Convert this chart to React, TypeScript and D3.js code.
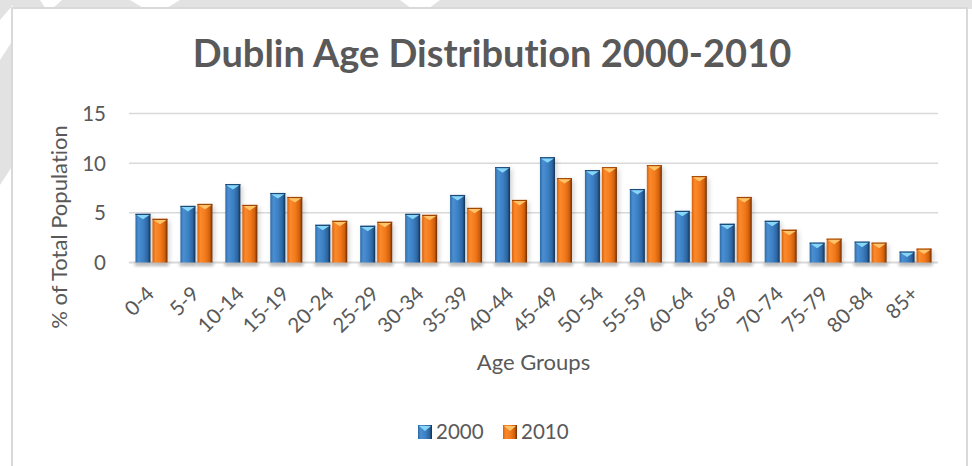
import React from 'react';
import * as d3 from 'd3';

// Age groups and % of total population
const categories = ['0-4', '5-9', '10-14', '15-19', '20-24', '25-29', '30-34', '35-39', '40-44',
  '45-49', '50-54', '55-59', '60-64', '65-69', '70-74', '75-79', '80-84', '85+'];
const values2000 = [4.9, 5.7, 7.9, 7.0, 3.8, 3.7, 4.9, 6.8, 9.6, 10.6, 9.3, 7.4, 5.2, 3.9, 4.2, 2.0, 2.1, 1.1];
const values2010 = [4.4, 5.9, 5.8, 6.6, 4.2, 4.1, 4.8, 5.5, 6.3, 8.5, 9.6, 9.8, 8.7, 6.6, 3.3, 2.4, 2.0, 1.4];
const seriesNames = ['2000', '2010'];
const yTicks = [0, 5, 10, 15];

const W = 972;
const H = 466;
const FONT = 'Lato, "Open Sans", sans-serif';
const TEXT = '#595959';

// bar look per series: gradient stops + bevel colour
const looks = [
  { id: 'g2000', stops: ['#2d6aa6', '#4a8fd2', '#3b7fc2', '#2c64a0', '#13304f'], bevel: '#86d6f8', edge: '#1d4a78' },
  { id: 'g2010', stops: ['#d9620c', '#fb8a2c', '#f2791a', '#d1600c', '#6e2c02'], bevel: '#ffc46a', edge: '#a04705' },
];

const App: React.FC = () => {
  const margin = { left: 129, right: 938, top: 113.5, bottom: 262.5 };

  const x = d3.scaleBand<string>()
    .domain(categories)
    .range([margin.left, margin.right])
    .paddingInner(0.288)
    .paddingOuter(0.144);

  const xs = d3.scaleBand<string>()
    .domain(seriesNames)
    .range([0, x.bandwidth()])
    .paddingInner(2 / 17);

  const y = d3.scaleLinear().domain([0, 15]).range([margin.bottom, margin.top]);

  const series = [values2000, values2010];

  return (
    <div style={{ position: 'absolute', left: 0, top: 0, width: W, height: H }}>
      <svg width={W} height={H} style={{ display: 'block', fontVariantLigatures: 'none' }}>
        <defs>
          {looks.map(l => (
            <linearGradient key={l.id} id={l.id} x1="0" x2="1" y1="0" y2="0">
              <stop offset="0" stopColor={l.stops[0]} />
              <stop offset="0.2" stopColor={l.stops[1]} />
              <stop offset="0.55" stopColor={l.stops[2]} />
              <stop offset="0.82" stopColor={l.stops[3]} />
              <stop offset="1" stopColor={l.stops[4]} />
            </linearGradient>
          ))}
          <filter id="blur" x="-50%" y="-200%" width="200%" height="500%">
            <feGaussianBlur stdDeviation="1.6" />
          </filter>
          <filter id="sideShadow" x="-50%" y="-10%" width="200%" height="130%">
            <feGaussianBlur stdDeviation="2.5" />
          </filter>
        </defs>

        {/* page background: grey margin with white diagonals */}
        <rect x={0} y={0} width={W} height={H} fill="#ffffff" />
        <rect x={0} y={0} width={W} height={9} fill="#e2e2e2" />
        <rect x={0} y={0} width={13} height={185} fill="#e2e2e2" />
        <polygon points="40,0 62,0 52,9 46,9" fill="#ffffff" />
        <polygon points="130,0 180,0 165,9 145,9" fill="#ffffff" />
        <polygon points="400,0 440,0 428,9 412,9" fill="#ffffff" />
        <polygon points="0,20 13,5 13,40 0,60" fill="#ffffff" />
        <polygon points="0,185 13,165 13,185" fill="#ffffff" />
        <rect x={12} y={8} width={955} height={470} fill="#ffffff" stroke="#d9d9d9" strokeWidth={2} />

        {/* title */}
        <text x={492} y={67} textAnchor="middle" fontFamily={FONT} fontWeight={700} fontSize={38} fill={TEXT}>
          Dublin Age Distribution 2000-2010
        </text>

        {/* gridlines */}
        {yTicks.map(t => (
          <line key={t} x1={margin.left} x2={margin.right} y1={y(t)} y2={y(t)}
            stroke="#d9d9d9" strokeWidth={t === 0 ? 2 : 1.5} />
        ))}

        {/* y tick labels */}
        {yTicks.map(t => (
          <text key={t} x={106} y={y(t)} dy="0.36em" textAnchor="end"
            fontFamily={FONT} fontSize={20.5} fill={TEXT}>{t}</text>
        ))}

        {/* y axis title */}
        <text transform={`translate(67,227) rotate(-90)`} textAnchor="middle"
          fontFamily={FONT} fontSize={22} fill={TEXT}>% of Total Population</text>

        {/* bar shadows */}
        {categories.map((c, i) => series.map((vals, s) => (
          <rect key={`sh-${c}-${s}`} x={(x(c) ?? 0) + (xs(seriesNames[s]) ?? 0) - 1}
            y={margin.bottom + 0.5} width={xs.bandwidth() + 2} height={3}
            fill="#9a9a9a" opacity={0.7} filter="url(#blur)" />
        )))}

        {/* bars */}
        {categories.map((c, i) => series.map((vals, s) => {
          const bx = (x(c) ?? 0) + (xs(seriesNames[s]) ?? 0);
          const bw = xs.bandwidth();
          const top = y(vals[i]);
          const look = looks[s];
          return (
            <g key={`b-${c}-${s}`}>
              <rect x={bx + 2} y={top + 2} width={bw} height={margin.bottom - top - 2}
                fill="#000" opacity={0.18} filter="url(#sideShadow)" />
              <rect x={bx} y={top} width={bw} height={margin.bottom - top} fill={`url(#${look.id})`} />
              <rect x={bx} y={top} width={bw} height={1.2} fill={look.edge} />
              <polygon points={`${bx + 1},${top + 1.2} ${bx + bw - 1},${top + 1.2} ${bx + bw / 2},${top + 5.5}`}
                fill={look.bevel} />
            </g>
          );
        }))}

        {/* x tick labels */}
        {categories.map(c => (
          <text key={c} transform={`translate(${(x(c) ?? 0) + x.bandwidth() / 2 + 4},295) rotate(-45)`}
            textAnchor="end" fontFamily={FONT} fontSize={20.5} fill={TEXT}>{c}</text>
        ))}

        {/* x axis title */}
        <text x={(margin.left + margin.right) / 2} y={370} textAnchor="middle"
          fontFamily={FONT} fontSize={22} fill={TEXT}>Age Groups</text>

        {/* legend */}
        {seriesNames.map((n, s) => {
          const lx = 418 + s * 85;
          const look = looks[s];
          return (
            <g key={n}>
              <rect x={lx} y={425} width={14} height={14} fill={`url(#${look.id})`} />
              <polygon points={`${lx + 1},${426} ${lx + 13},${426} ${lx + 7},${431}`} fill={look.bevel} />
              <text x={lx + 18} y={432} dy="0.36em" fontFamily={FONT} fontSize={20.5} fill={TEXT}>{n}</text>
            </g>
          );
        })}
      </svg>
    </div>
  );
};

export default App;
